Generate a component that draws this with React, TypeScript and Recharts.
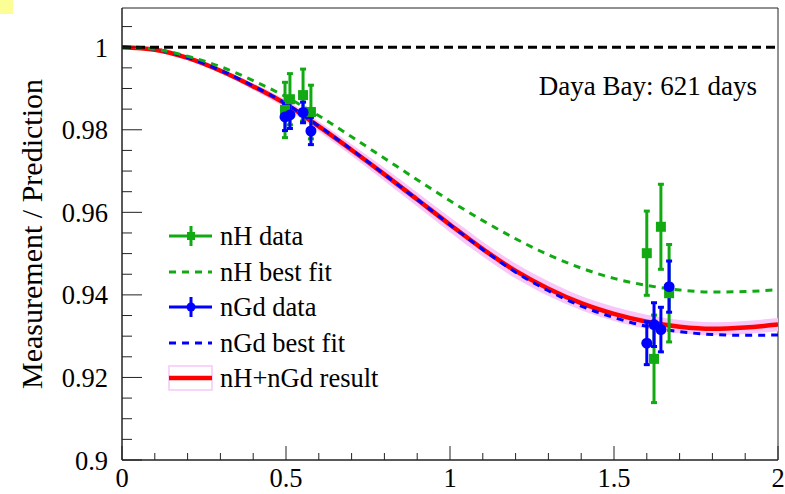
import React from 'react';
import {
  ComposedChart,
  Line,
  Area,
  Scatter,
  ErrorBar,
  XAxis,
  YAxis,
  ReferenceLine,
  ReferenceArea,
  Legend,
} from 'recharts';

const GREEN = '#12aa12';
const BLUE = '#0000ff';
const RED = '#ff0000';
const PINK = '#f8c6f8';
const FONT = '"Liberation Serif", "Times New Roman", serif';

const curveX = [0, 0.1, 0.2, 0.3, 0.4, 0.5, 0.6, 0.7, 0.8, 0.9, 1.0, 1.1, 1.2, 1.3, 1.4, 1.5, 1.6, 1.7, 1.8, 1.9, 2.0];
const resultFit = [1.0, 0.9994, 0.9974, 0.9943, 0.9905, 0.9862, 0.9808, 0.9751, 0.9692, 0.9631, 0.957, 0.9511, 0.9458, 0.9415, 0.938, 0.9354, 0.9335, 0.9323, 0.9318, 0.9321, 0.9328];
const resultBand = [0, 0.0001, 0.0003, 0.0005, 0.0008, 0.001, 0.0012, 0.0014, 0.0016, 0.0017, 0.0018, 0.0018, 0.0018, 0.0018, 0.0017, 0.0017, 0.0017, 0.0016, 0.0016, 0.0016, 0.0016];
const nGdFit = [1.0, 0.9995, 0.9975, 0.9944, 0.9906, 0.9863, 0.9809, 0.9752, 0.9692, 0.9631, 0.957, 0.951, 0.9455, 0.941, 0.9373, 0.9345, 0.9324, 0.9311, 0.9304, 0.9302, 0.9303];
const nHFit = [1.0, 0.9995, 0.9978, 0.9953, 0.9919, 0.988, 0.9834, 0.9783, 0.9731, 0.9679, 0.9628, 0.958, 0.9536, 0.9497, 0.9465, 0.944, 0.9423, 0.9412, 0.9407, 0.9408, 0.9413];

// data points
const nHX = [0.497, 0.512, 0.552, 0.576, 1.6, 1.622, 1.643, 1.668];
const nHY = [0.9848, 0.9874, 0.9884, 0.9843, 0.9501, 0.9245, 0.9565, 0.9404];
const nHErr = [0.0067, 0.0062, 0.0063, 0.0065, 0.0102, 0.0106, 0.0103, 0.0118];
const nGdX = [0.497, 0.512, 0.552, 0.576, 1.6, 1.622, 1.643, 1.668];
const nGdY = [0.9831, 0.9836, 0.9842, 0.9797, 0.9283, 0.9328, 0.9316, 0.942];
const nGdErr = [0.0033, 0.0033, 0.0025, 0.0033, 0.0052, 0.0053, 0.0054, 0.0062];

const xMajorTicks = [0, 0.5, 1, 1.5, 2];
const xMinorTicks = [0.1, 0.2, 0.3, 0.4, 0.6, 0.7, 0.8, 0.9, 1.1, 1.2, 1.3, 1.4, 1.6, 1.7, 1.8, 1.9];
const yMajorTicks = [0.9, 0.92, 0.94, 0.96, 0.98, 1];
const yMinorTicks = [0.905, 0.91, 0.915, 0.925, 0.93, 0.935, 0.945, 0.95, 0.955, 0.965, 0.97, 0.975, 0.985, 0.99, 0.995, 1.005];
const yTop = 1.0095;

const legendItems = ['nH data', 'nH best fit', 'nGd data', 'nGd best fit', 'nH+nGd result'];

const rows = curveX.map((x, i) => ({
  x,
  result: resultFit[i],
  nGd: nGdFit[i],
  nH: nHFit[i],
  band: [resultFit[i] - resultBand[i], resultFit[i] + resultBand[i]],
}));
const nHPoints = nHX.map((x, i) => ({ x, y: nHY[i], err: nHErr[i] }));
const nGdPoints = nGdX.map((x, i) => ({ x, y: nGdY[i], err: nGdErr[i] }));

const YTick = (props: any) => {
  const { x, y, payload } = props;
  const major = yMajorTicks.includes(payload.value);
  return (
    <g>
      <line x1={x} x2={x + (major ? 20 : 10)} y1={y} y2={y} stroke='#222' />
      {major && (
        <text x={x - 14} y={y} dy='0.36em' textAnchor='end' fontFamily={FONT} fontSize={26.5} fill='#000'>
          {String(payload.value)}
        </text>
      )}
    </g>
  );
};

const XTick = (props: any) => {
  const { x, y, payload } = props;
  const major = xMajorTicks.includes(payload.value);
  return (
    <g>
      <line x1={x} x2={x} y1={y} y2={y - (major ? 14 : 7)} stroke='#222' />
      {major && (
        <text x={x} y={y + 27} textAnchor='middle' fontFamily={FONT} fontSize={26.5} fill='#000'>
          {String(payload.value)}
        </text>
      )}
    </g>
  );
};

const Square = (p: any) => <rect x={p.cx - 5} y={p.cy - 5} width={10} height={10} fill={GREEN} />;
const Dot = (p: any) => <circle cx={p.cx} cy={p.cy} r={5.5} fill={BLUE} />;

const LegendBox = () => {
  const rowY = [18, 54, 89, 125, 160];
  return (
    <svg width={260} height={180} style={{ overflow: 'visible' }}>
      {/* nH data */}
      <line x1={9} x2={52} y1={rowY[0]} y2={rowY[0]} stroke={GREEN} strokeWidth={3} />
      <line x1={31} x2={31} y1={rowY[0] - 10} y2={rowY[0] + 10} stroke={GREEN} strokeWidth={3} />
      <rect x={27} y={rowY[0] - 4} width={8} height={8} fill={GREEN} />
      {/* nH best fit */}
      <line x1={9} x2={52} y1={rowY[1]} y2={rowY[1]} stroke={GREEN} strokeWidth={3} strokeDasharray='7 6' />
      {/* nGd data */}
      <line x1={9} x2={52} y1={rowY[2]} y2={rowY[2]} stroke={BLUE} strokeWidth={3} />
      <line x1={31} x2={31} y1={rowY[2] - 10} y2={rowY[2] + 10} stroke={BLUE} strokeWidth={3} />
      <circle cx={31} cy={rowY[2]} r={4.5} fill={BLUE} />
      {/* nGd best fit */}
      <line x1={9} x2={52} y1={rowY[3]} y2={rowY[3]} stroke={BLUE} strokeWidth={3} strokeDasharray='7 6' />
      {/* result */}
      <rect x={9} y={rowY[4] - 12} width={43} height={24} fill='#fff' stroke={PINK} strokeWidth={1.5} />
      <line x1={9} x2={52} y1={rowY[4]} y2={rowY[4]} stroke={RED} strokeWidth={4.5} />
      {legendItems.map((t, i) => (
        <text key={t} x={60} y={rowY[i]} dy='0.34em' fontFamily={FONT} fontSize={26.5} fill='#000'>
          {t}
        </text>
      ))}
    </svg>
  );
};

export default function App() {
  return (
    <div style={{ position: 'absolute', left: 0, top: 0, width: 785, height: 494, background: '#fff' }}>
      <div style={{ position: 'absolute', left: 0, top: 0, width: 13, height: 14, background: '#fdfd96' }} />
      <ComposedChart width={785} height={494} data={rows} margin={{ top: 8, right: 7, bottom: 0, left: 0 }}>
        <XAxis
          dataKey='x'
          type='number'
          domain={[0, 2]}
          ticks={[...xMajorTicks, ...xMinorTicks].sort((a, b) => a - b)}
          interval={0}
          tickSize={0}
          tickMargin={0}
          tickLine={false}
          tick={<XTick />}
          height={34}
          axisLine={{ stroke: '#222' }}
          allowDataOverflow
        />
        <YAxis
          dataKey='y'
          type='number'
          domain={[0.9, yTop]}
          ticks={[...yMajorTicks, ...yMinorTicks].sort((a, b) => a - b)}
          interval={0}
          tickSize={0}
          tickMargin={0}
          tickLine={false}
          tick={<YTick />}
          width={122}
          axisLine={{ stroke: '#222' }}
          allowDataOverflow
        />
        <ReferenceArea x1={0} x2={2} y1={0.9} y2={yTop} fill='none' stroke='#222' strokeWidth={1} ifOverflow='visible' />
        <Area dataKey='band' type='monotone' stroke='none' fill={PINK} fillOpacity={1} isAnimationActive={false} />
        <Line dataKey='result' type='monotone' stroke={RED} strokeWidth={4.5} dot={false} isAnimationActive={false} />
        <Line dataKey='nGd' type='monotone' stroke={BLUE} strokeWidth={3} strokeDasharray='7 6' dot={false} isAnimationActive={false} />
        <Line dataKey='nH' type='monotone' stroke={GREEN} strokeWidth={3} strokeDasharray='7 6' dot={false} isAnimationActive={false} />
        <ReferenceLine y={1} stroke='#000' strokeWidth={3} strokeDasharray='9 5' />
        <Scatter data={nHPoints} dataKey='y' shape={<Square />} isAnimationActive={false}>
          <ErrorBar dataKey='err' direction='y' width={3} strokeWidth={3} stroke={GREEN} />
        </Scatter>
        <Scatter data={nGdPoints} dataKey='y' shape={<Dot />} isAnimationActive={false}>
          <ErrorBar dataKey='err' direction='y' width={3} strokeWidth={3} stroke={BLUE} />
        </Scatter>
        <Legend
          layout='vertical'
          align='center'
          verticalAlign='middle'
          content={<LegendBox />}
          wrapperStyle={{ left: 160, top: 218, width: 260, height: 180 }}
        />
      </ComposedChart>
      <svg width={785} height={494} style={{ position: 'absolute', left: 0, top: 0, pointerEvents: 'none' }}>
        <text
          x={42}
          y={234}
          textAnchor='middle'
          transform='rotate(-90, 42, 234)'
          fontFamily={FONT}
          fontSize={30}
          fill='#000'
        >
          Measurement / Prediction
        </text>
        <text x={757} y={95} textAnchor='end' fontFamily={FONT} fontSize={27} fill='#000'>
          Daya Bay: 621 days
        </text>
      </svg>
    </div>
  );
}
